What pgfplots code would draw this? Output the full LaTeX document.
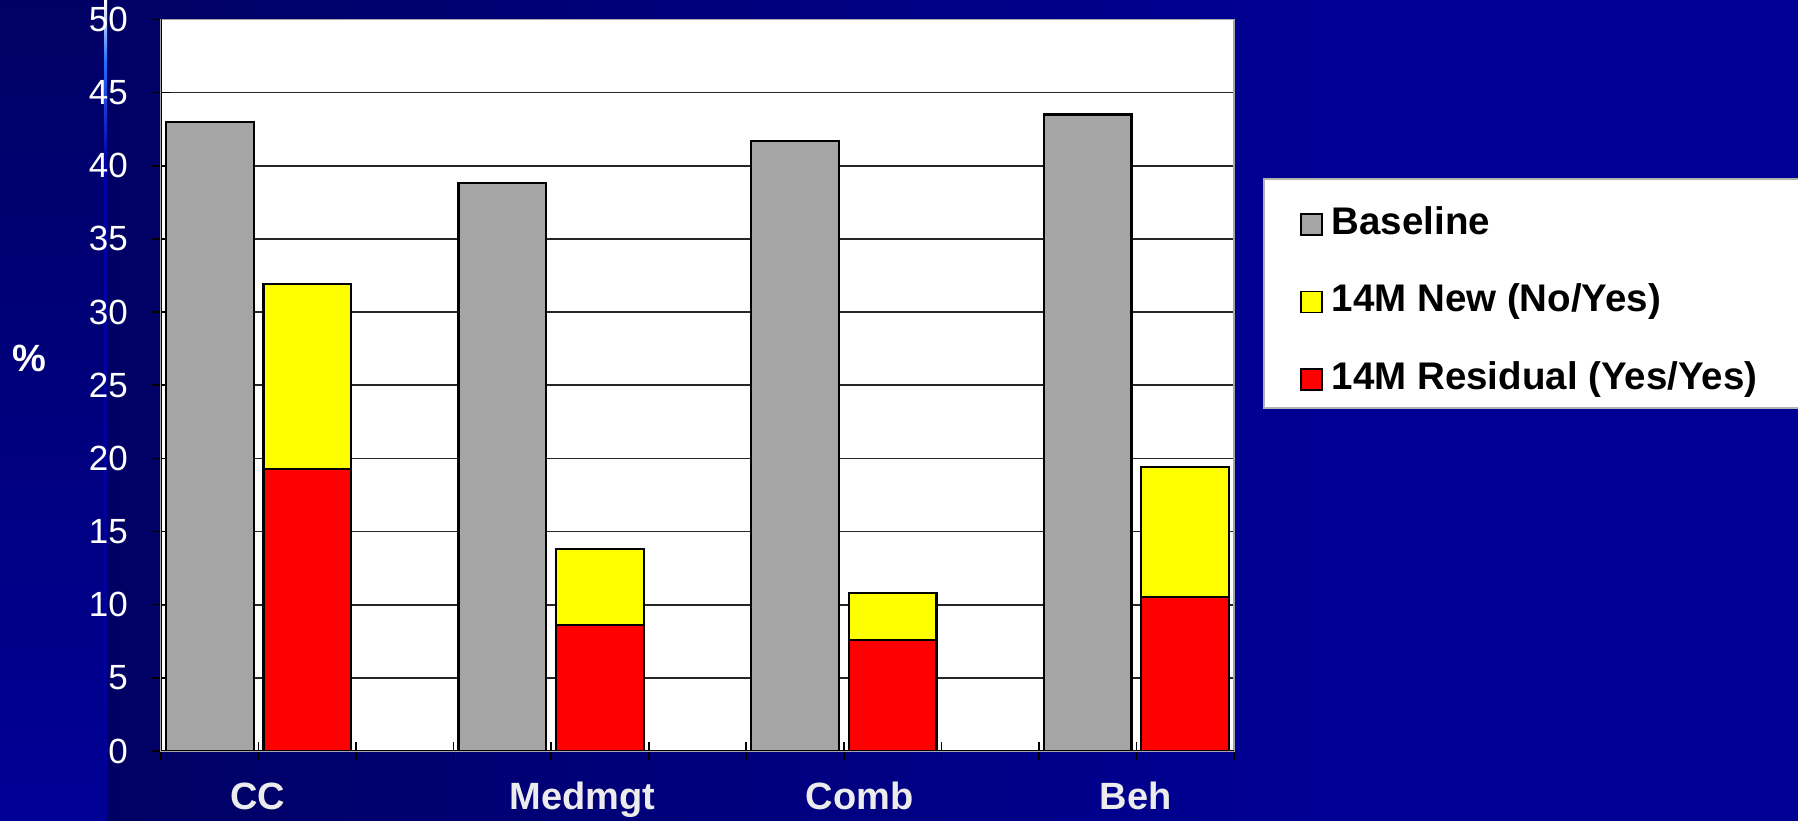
\documentclass[border=0pt]{standalone}
\usepackage{pgfplots}
\pgfplotsset{compat=1.18}
\usepackage{fontspec}
\setmainfont{Liberation Sans}

\definecolor{bgDark}{RGB}{0,0,100}
\definecolor{bgLight}{RGB}{0,0,148}
\definecolor{stripTop}{RGB}{0,0,100}
\definecolor{stripBot}{RGB}{0,0,150}
\definecolor{lineMid}{RGB}{40,110,255}
\definecolor{lineLow}{RGB}{0,0,170}
\definecolor{barGray}{RGB}{165,165,165}
\definecolor{barYellow}{RGB}{255,255,0}
\definecolor{barRed}{RGB}{255,0,0}
\definecolor{catText}{RGB}{236,236,236}

\pgfplotsset{
  common/.style={
    at={(161pt,70pt)}, anchor=south west,
    scale only axis, width=1073pt, height=731.5pt,
    xmin=-0.5, xmax=10.5, ymin=0, ymax=50,
    bar width=0.9,
  },
}

\begin{document}
\begin{tikzpicture}[x=1pt,y=1pt]
\useasboundingbox (0,0) rectangle (1798,821);
% slide background
\fill[left color=bgDark, right color=bgLight] (105,0) rectangle (1320,821);
\fill[bgLight] (1320,0) rectangle (1798,821);
\fill[top color=stripTop, bottom color=stripBot] (0,0) rectangle (105,821);
% thin accent rule
\fill[top color=white, bottom color=lineMid] (104,761) rectangle (107,821);
\fill[top color=lineMid, bottom color=lineLow] (104,661) rectangle (107,761);
\fill[top color=lineLow, bottom color=stripBot] (104,0) rectangle (107,661);
% legend panel
\filldraw[fill=white, draw=gray!60, line width=1.5pt] (1264,413) rectangle (1830,642);

\begin{axis}[
  common,
  axis background/.style={fill=white},
  axis line style={gray!70, line width=1.5pt},
  ytick={0,5,...,50},
  ymajorgrids,
  grid style={black!85, line width=1.7pt},
  xtick={-0.5,0.5,...,10.5},
  xticklabels={},
  tick pos=left,
  tick align=center,
  major tick length=18pt,
  tick style={black, line width=1.6pt},
  /pgf/number format/assume math mode=true,
  yticklabel style={font=\fontsize{35}{40}\selectfont, text=white, anchor=east, inner sep=0pt, xshift=-24pt},
  extra x ticks={0.49,3.82,6.66,9.49},
  extra x tick labels={CC,Medmgt,Comb,Beh},
  extra x tick style={major tick length=0pt,
    xticklabel style={font=\bfseries\fontsize{38}{44}\selectfont, text=catText, anchor=base, inner sep=0pt, yshift=-59pt}},
  ylabel={\%},
  ylabel style={rotate=-90, at={(axis description cs:-0.123,0.537)}, anchor=center,
    font=\bfseries\fontsize{38}{44}\selectfont, text=white},
]
\addplot[ybar, fill=barGray, draw=black, line width=2.2pt]
  coordinates {(0,43.0) (3,38.8) (6,41.7) (9,43.5)};
\end{axis}

\begin{axis}[
  common,
  ybar stacked,
  hide axis,
  legend cell align=left,
  legend image code/.code={\draw[#1,draw=black,line width=1.5pt] (0pt,-10.5pt) rectangle (21pt,10.5pt);},
  legend style={at={(axis description cs:1.0615,0.7437)}, anchor=north west,
    draw=none, fill=none, inner sep=0pt, row sep=42.5pt, column sep=9pt,
    nodes={font=\bfseries\fontsize{38.5}{44}\selectfont, inner sep=0pt, text height=27pt, text depth=8pt}},
]
\addlegendimage{fill=barGray}
\addlegendentry{Baseline}
\addlegendimage{fill=barYellow}
\addlegendentry{14M New (No/Yes)}
\addlegendimage{fill=barRed}
\addlegendentry{14M Residual (Yes/Yes)}
% residual at the bottom, new cases stacked on top
\addplot[fill=barRed, draw=black, line width=2.2pt, forget plot]
  coordinates {(1,19.3) (4,8.6) (7,7.6) (10,10.55)};
\addplot[fill=barYellow, draw=black, line width=2.2pt, forget plot]
  coordinates {(1,12.6) (4,5.2) (7,3.2) (10,8.85)};
\draw[black, line width=2pt] (rel axis cs:0,1) -- (rel axis cs:0,0) -- (rel axis cs:1,0);
\end{axis}
\end{tikzpicture}
\end{document}
